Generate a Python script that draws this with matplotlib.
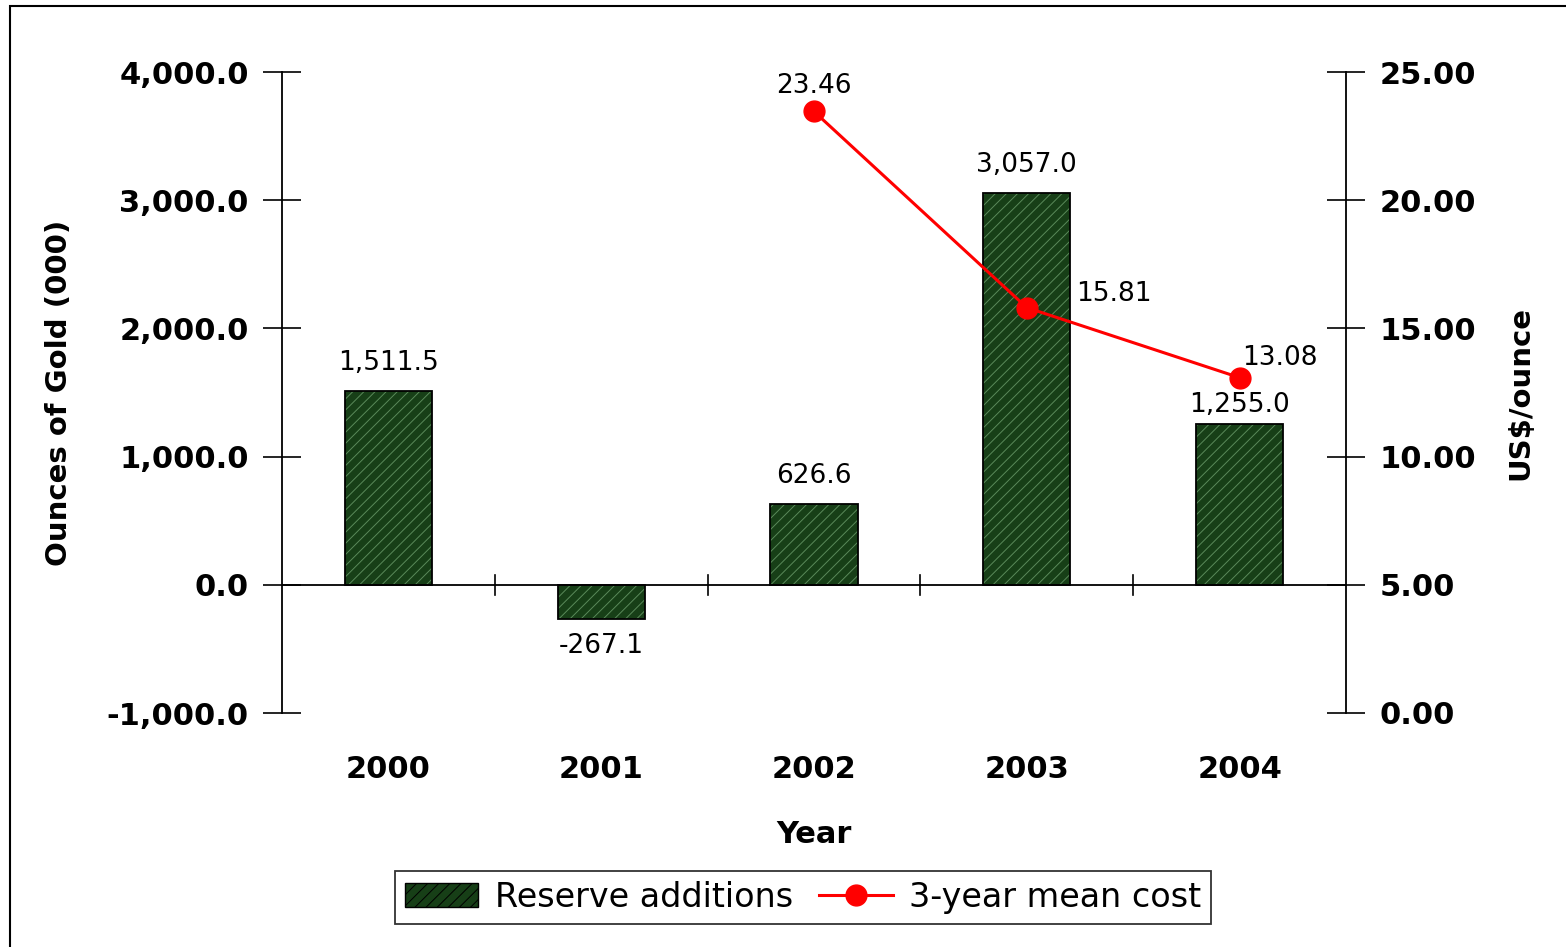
import matplotlib.pyplot as plt
from matplotlib.patches import Rectangle
from matplotlib.ticker import FuncFormatter

plt.rcParams["font.family"] = ["DejaVu Sans"]
plt.rcParams["hatch.linewidth"] = 0.7

years = ["2000", "2001", "2002", "2003", "2004"]
reserve_additions = [1511.5, -267.1, 626.6, 3057.0, 1255.0]
cost_years = [2, 3, 4]
mean_cost = [23.46, 15.81, 13.08]
cost_labels = ["23.46", "15.81", "13.08"]

fig = plt.figure(figsize=(15.66, 9.47), dpi=100)
fig.patches.append(Rectangle((10 / 1566, -0.01), 1.0, 1 - 6 / 947 + 0.01,
                             transform=fig.transFigure, fill=False,
                             edgecolor="black", linewidth=1.5))

ax = fig.add_axes([282 / 1566, 1 - 713 / 947, 1064 / 1566, 641 / 947])
x = list(range(len(years)))

# fill + hatch first, then the black outline on top
ax.bar(x, reserve_additions, width=0.41, color="#173f17", edgecolor="#5a8a5a",
       hatch="///", linewidth=0, zorder=2)
ax.bar(x, reserve_additions, width=0.41, fill=False, edgecolor="black",
       linewidth=1.3, zorder=3)

# the 2004 label sits a little closer to its bar in the original
bar_label_gap = [120, 110, 120, 120, 45]
for xi, v, gap in zip(x, reserve_additions, bar_label_gap):
    if v >= 0:
        ax.text(xi, v + gap, f"{v:,.1f}", ha="center", va="bottom", fontsize=19)
    else:
        ax.text(xi, v - gap, f"{v:,.1f}", ha="center", va="top", fontsize=19)

ax.set_xlim(-0.5, 4.5)
ax.set_ylim(-1000, 4000)
ax.set_yticks([-1000, 0, 1000, 2000, 3000, 4000])
ax.yaxis.set_major_formatter(FuncFormatter(lambda v, p: f"{v:,.1f}"))
ax.axhline(0, color="black", linewidth=1.3, zorder=4)
for b in [0.5, 1.5, 2.5, 3.5]:
    ax.plot([b, b], [-80, 80], color="black", linewidth=1.2, zorder=4)

ax.set_xticks(x)
ax.set_xticklabels(years, fontsize=22, fontweight="bold")
ax.tick_params(axis="x", length=0, pad=30)
ax.tick_params(axis="y", direction="inout", length=28, width=1.2, labelsize=22, pad=10)
for lab in ax.get_yticklabels():
    lab.set_fontweight("bold")
for s in ["top", "right", "bottom"]:
    ax.spines[s].set_visible(False)
ax.spines["left"].set_linewidth(1.3)
ax.set_xlabel("Year", fontsize=22, fontweight="bold", labelpad=26)
ax.set_ylabel("Ounces of Gold (000)", fontsize=21, fontweight="bold", labelpad=24)

ax2 = ax.twinx()
ax2.set_ylim(0, 25)
ax2.set_yticks([0, 5, 10, 15, 20, 25])
ax2.yaxis.set_major_formatter(FuncFormatter(lambda v, p: f"{v:.2f}"))
ax2.tick_params(axis="y", direction="inout", length=28, width=1.2, labelsize=22, pad=10)
for lab in ax2.get_yticklabels():
    lab.set_fontweight("bold")
for s in ["top", "left", "bottom"]:
    ax2.spines[s].set_visible(False)
ax2.spines["right"].set_linewidth(1.3)
ax2.set_ylabel("US$/ounce", fontsize=21, fontweight="bold", labelpad=22)

ax2.plot(cost_years, mean_cost, color="red", linewidth=2.2, marker="o",
         markersize=15, zorder=5)
offsets = [(0, 0.5, "center", "bottom"), (0.23, 0.55, "left", "center"),
           (0.01, 0.25, "left", "bottom")]
for xi, v, lab, (dx, dy, ha, va) in zip(cost_years, mean_cost, cost_labels, offsets):
    ax2.text(xi + dx, v + dy, lab, ha=ha, va=va, fontsize=19)

bar_handle = Rectangle((0, 0), 1, 1, facecolor="#173f17", edgecolor="black",
                       hatch="///", linewidth=1)
line_handle = plt.Line2D([], [], color="red", linewidth=2.2, marker="o", markersize=15)
leg = fig.legend([bar_handle, line_handle], ["Reserve additions", "3-year mean cost"],
                 loc="center", bbox_to_anchor=(803 / 1566, 1 - 897 / 947), ncol=2,
                 fontsize=24, frameon=True, fancybox=False, edgecolor="black",
                 handlelength=2.2, columnspacing=0.8, handletextpad=0.5,
                 borderpad=0.3, borderaxespad=0.0)
leg.get_frame().set_linewidth(1.3)

fig.savefig("out.png", dpi=100)
